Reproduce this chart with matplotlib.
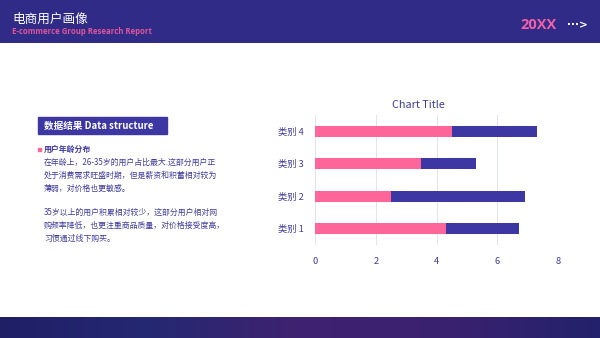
import numpy as np
import matplotlib
matplotlib.use("Agg")
import matplotlib.pyplot as plt
from matplotlib.colors import LinearSegmentedColormap
from matplotlib.patches import Rectangle

plt.rcParams['font.family'] = ['Noto Sans CJK SC', 'DejaVu Sans']

# data
categories = ["类别 1", "类别 2", "类别 3", "类别 4"]
series1 = [4.3, 2.5, 3.5, 4.5]
series2 = [2.4, 4.4, 1.8, 2.8]
xticks = [0, 2, 4, 6, 8]

PINK = "#fe6599"
BLUE = "#3d37a4"
NAVY = "#2f2b87"
TXT = "#3f3c9a"

fig = plt.figure(figsize=(6, 3.38), dpi=100)
fig.patch.set_facecolor("white")

# header band
hdr = fig.add_axes([0, 1 - 43 / 338, 1, 43 / 338])
hdr.set_axis_off()
hdr.add_patch(Rectangle((0, 0), 1, 1, color=NAVY, transform=hdr.transAxes))
fig.text(12 / 600, 1 - 19 / 338, "电商用户画像", color="white", fontsize=9.1, va="center")
fig.text(12 / 600, 1 - 32 / 338, "E-commerce Group Research Report", color="#e0559b",
         fontsize=5.6, fontweight="bold", va="center", family="Open Sans")
fig.text(520 / 600, 1 - 25 / 338, "20XX", color="#f060a8", fontsize=10.5,
         fontweight="bold", va="center", family="Open Sans")
fig.text(567 / 600, 1 - 25 / 338, "···>", color="white", fontsize=7.5,
         fontweight="bold", va="center", family="DejaVu Sans")

# footer band with gradient
ftr = fig.add_axes([0, 0, 1, 21 / 338])
ftr.set_axis_off()
cmap = LinearSegmentedColormap.from_list(
    "ft", ["#1f1f66", "#252872", "#3f2270", "#3a2170", "#23216b"])
ftr.imshow(np.linspace(0, 1, 256)[None, :], aspect="auto", cmap=cmap,
           extent=[0, 1, 0, 1])
ftr.set_xlim(0, 1)
ftr.set_ylim(0, 1)

# left text block
fig.patches.append(Rectangle((38 / 600, 1 - 134 / 338), 129 / 600, 17 / 338,
                             transform=fig.transFigure, color=BLUE, zorder=1))
fig.text(44 / 600, 1 - 126 / 338, "数据结果 Data structure", color="white",
         fontsize=6.9, fontweight="bold", va="center", zorder=2)
fig.patches.append(Rectangle((38 / 600, 1 - 151 / 338), 3 / 600, 3 / 338,
                             transform=fig.transFigure, color=PINK))
fig.text(44 / 600, 1 - 149 / 338, "用户年龄分布", color=BLUE, fontsize=5.7,
         fontweight="bold", va="center")
lines = [
    (162, "在年龄上，26-35岁的用户占比最大.这部分用户正"),
    (175, "处于消费需求旺盛时期，但是薪资和积蓄相对较为"),
    (188, "薄弱，对价格也更敏感。"),
    (212, "35岁以上的用户积累相对较少，这部分用户相对网"),
    (225, "购频率降低，也更注重商品质量，对价格接受度高，"),
    (238, "习惯通过线下购买。"),
]
for y, s in lines:
    fig.text(44 / 600, 1 - y / 338, s, color=TXT, fontsize=5.7, va="center")

# chart
ax = fig.add_axes([315 / 600, 1 - 245 / 338, 243 / 600, 130 / 338])
y = np.arange(len(categories))
ax.barh(y, series1, height=0.35, color=PINK, zorder=3)
ax.barh(y, series2, left=series1, height=0.35, color=BLUE, zorder=3)
ax.set_xlim(0, 8)
ax.set_ylim(-0.5, 3.5)
ax.set_xticks(xticks)
ax.set_yticks(y)
ax.set_yticklabels(categories)
ax.tick_params(axis="both", length=0, colors=TXT, labelsize=6.7)
ax.tick_params(axis="x", pad=9)
ax.tick_params(axis="y", pad=8)
ax.grid(axis="x", color="#e4e4ec", linewidth=0.7, zorder=0)
for sp in ax.spines.values():
    sp.set_visible(False)
fig.text(418 / 600, 1 - 105 / 338, "Chart Title", color=TXT, fontsize=7.8,
         ha="center", va="center")

fig.savefig("out.png", dpi=100, facecolor="white")
